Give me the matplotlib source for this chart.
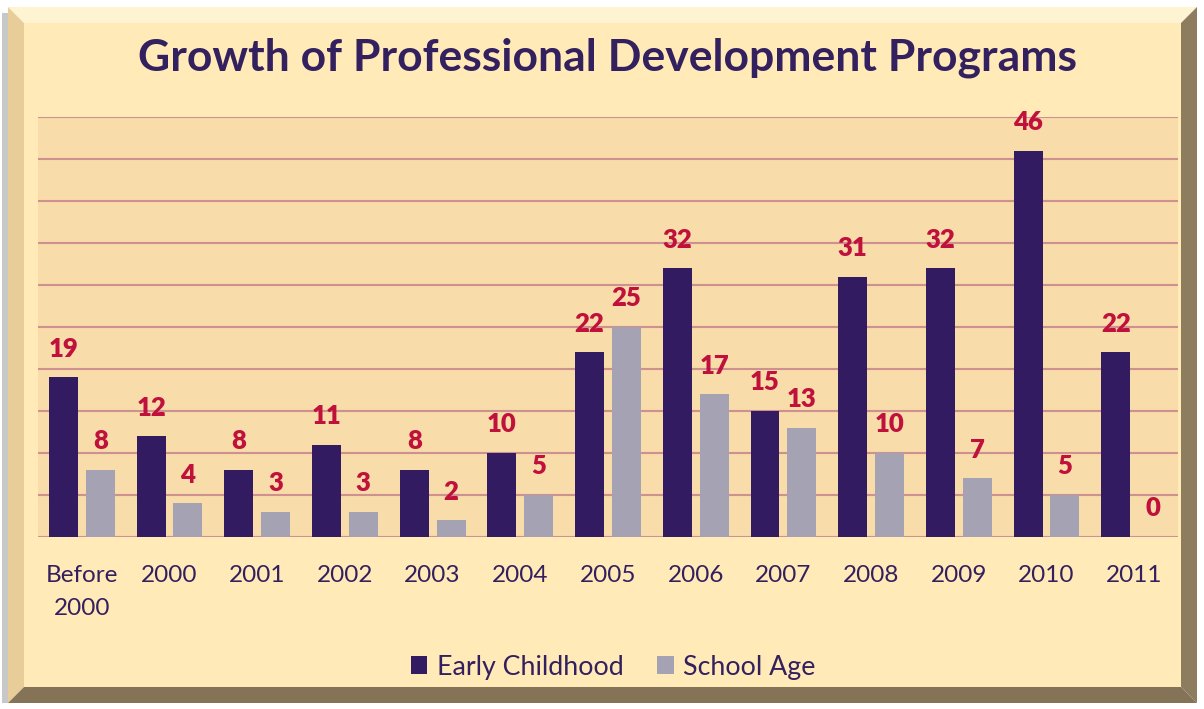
import matplotlib.pyplot as plt
from matplotlib.patches import Polygon
import numpy as np

categories = ["Before\n2000", "2000", "2001", "2002", "2003", "2004", "2005",
              "2006", "2007", "2008", "2009", "2010", "2011"]
early_childhood = [19, 12, 8, 11, 8, 10, 22, 32, 15, 31, 32, 46, 22]
school_age = [8, 4, 3, 3, 2, 5, 25, 17, 13, 10, 7, 5, 0]

W, H = 1204, 709
dark = "#331B62"
gray = "#A5A3B3"
red = "#C0103C"
txt = "#33205F"
font = "Lato"

fig = plt.figure(figsize=(W / 100, H / 100), dpi=100)
fig.patch.set_facecolor("white")

# bevelled frame, in pixel coords converted to figure fraction
def px(pts):
    return [(x / W, 1 - y / H) for x, y in pts]

def add_poly(pts, color):
    fig.patches.append(Polygon(px(pts), closed=True, transform=fig.transFigure,
                               fc=color, ec="none", zorder=-5))

x0, y0, x1, y1, b = 8, 7, 1197, 703, 16
add_poly([(x0 - 6, y0 + 6), (x0, y0 + 6), (x0, y1), (x0 - 6, y1)], "#C8C8C8")
add_poly([(x0, y0), (x1, y0), (x1 - b, y0 + b), (x0 + b, y0 + b)], "#FFF4D2")
add_poly([(x0, y0), (x0 + b, y0 + b), (x0 + b, y1 - b), (x0, y1)], "#E8CD98")
add_poly([(x1, y0), (x1, y1), (x1 - b, y1 - b), (x1 - b, y0 + b)], "#8E7C5E")
add_poly([(x0, y1), (x1, y1), (x1 - b, y1 - b), (x0 + b, y1 - b)], "#857358")
add_poly([(x0 + b, y0 + b), (x1 - b, y0 + b), (x1 - b, y1 - b), (x0 + b, y1 - b)], "#FFEAB8")

ax = fig.add_axes([38 / W, (H - 537) / H, 1140 / W, 420 / H])
ax.set_facecolor("#F8DCAA")

x = np.arange(len(categories))
w = 0.33
off = 0.21
b1 = ax.bar(x - off, early_childhood, w, color=dark, label="Early Childhood", zorder=3)
b2 = ax.bar(x + off, school_age, w, color=gray, label="School Age", zorder=3)

for bars, vals in [(b1, early_childhood), (b2, school_age)]:
    for r, v in zip(bars, vals):
        ax.annotate(str(v), (r.get_x() + r.get_width() / 2, v), xytext=(0, 12),
                    textcoords="offset points", ha="center", va="bottom",
                    color=red, fontsize=18.5, fontweight="heavy", family=font)

ax.set_xlim(-0.5, len(categories) - 0.5)
ax.set_ylim(0, 50)
ax.set_yticks(np.arange(0, 51, 5))
ax.yaxis.grid(True, color="#CF9090", linewidth=1.5, zorder=0)
ax.set_axisbelow(True)
ax.tick_params(axis="y", left=False, labelleft=False)
ax.tick_params(axis="x", bottom=False, pad=17)
for s in ax.spines.values():
    s.set_visible(False)
ax.set_xticks(x)
ax.set_xticklabels(categories, fontsize=17.5, color=txt, family=font, linespacing=1.7)

fig.text(607 / W, 1 - 58 / H, "Growth of Professional Development Programs",
         ha="center", va="center", fontsize=32, fontweight="bold", color=txt, family=font)

leg = fig.legend(loc="center", bbox_to_anchor=(613 / W, 1 - 667 / H), ncol=2,
                 frameon=False, handlelength=0.62, handleheight=0.62,
                 handletextpad=0.35, columnspacing=1.25,
                 prop={"family": font, "size": 19.3})
for t in leg.get_texts():
    t.set_color(txt)

fig.savefig("out.png", dpi=100, facecolor=fig.get_facecolor())
